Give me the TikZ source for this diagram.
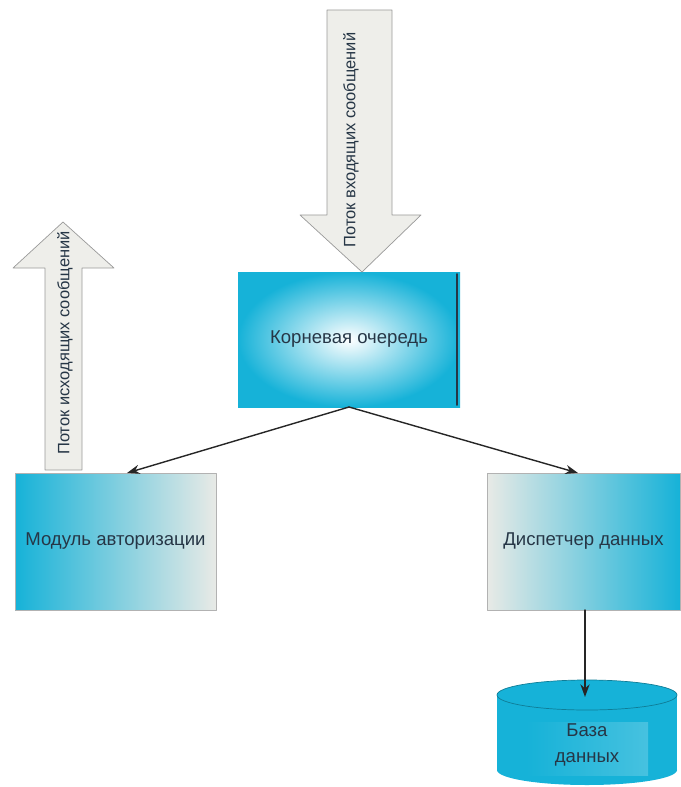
\documentclass[tikz,border=0pt]{standalone}
\usepackage{fontspec}
\setmainfont{Liberation Sans}
\usetikzlibrary{arrows.meta}
\definecolor{boxcyan}{RGB}{22,178,216}
\definecolor{boxgray}{RGB}{232,234,230}
\definecolor{textdark}{RGB}{38,54,70}
\definecolor{flowfill}{RGB}{238,238,234}
\begin{document}
\begin{tikzpicture}[x=0.025cm,y=-0.025cm,>={Stealth[length=9pt,width=6.5pt]},line join=round,line cap=round,
	boxtext/.style={text=textdark,font=\fontsize{13.2}{16}\selectfont},
	flowtext/.style={text=textdark,font=\fontsize{11.7}{13}\selectfont,rotate=90},
	flowarrow/.style={fill=flowfill,draw=black!40,line width=0.5pt},
	link/.style={->,line width=1pt,black!85}]
	\useasboundingbox (0,0) rectangle (680,787);
	%Корневая очередь
	\path (238,272) coordinate (R1) (460,407) coordinate (R2);
	\shade[inner color=white,outer color=boxcyan] (R1) rectangle (R2);
	\draw[line width=1.4pt,textdark] (457,274)--(457,405);
	\node[boxtext] (root) at (349,339.5) {Корневая очередь};
	\coordinate (rootS) at (349,407);
	%Модуль авторизации
	\path (15,473) coordinate (M1) (216,610) coordinate (M2);
	\shade[left color=boxcyan,middle color=boxcyan!55!boxgray,right color=boxgray] (M1) rectangle (M2);
	\draw[black!30,line width=0.4pt] (M1) rectangle (M2);
	\node[boxtext] (auth) at (115.5,541.5) {Модуль авторизации};
	\coordinate (authN) at (127,473);
	%Диспетчер данных
	\path (487,473) coordinate (D1) (680,610) coordinate (D2);
	\shade[left color=boxgray,middle color=boxcyan!55!boxgray,right color=boxcyan] (D1) rectangle (D2);
	\draw[black!30,line width=0.4pt] (D1) rectangle (D2);
	\node[boxtext] (disp) at (583.5,541.5) {Диспетчер данных};
	\coordinate (dispN) at (578,473);
	\coordinate (dispS) at (585,610);
	%База данных
	\fill[boxcyan] (497,695) rectangle (677,770);
	\fill[boxcyan] (587,770) ellipse [x radius=90,y radius=15];
	\draw[fill=boxcyan,draw=boxcyan!70!black,line width=0.5pt] (587,695) ellipse [x radius=90,y radius=15];
	\shade[left color=boxcyan,right color=boxcyan!40!white,opacity=0.35] (525,722) rectangle (648,775);
	\node[boxtext,align=center] (db) at (587,745) {База\\[2pt]данных};
	\coordinate (dbtop) at (585,697);
	%Потоки сообщений
	\path (327,10) coordinate (A1) (392,10) coordinate (A2) (392,215) coordinate (A3)
		(421,215) coordinate (A4) (362,272) coordinate (A5) (300,215) coordinate (A6)
		(327,215) coordinate (A7);
	\draw[flowarrow] (A1)--(A2)--(A3)--(A4)--(A5)--(A6)--(A7)--cycle;
	\node[flowtext] (inflow) at (351,140) {Поток входящих сообщений};
	\path (45,470) coordinate (B1) (45,268) coordinate (B2) (13,268) coordinate (B3)
		(63,222) coordinate (B4) (114,268) coordinate (B5) (82,268) coordinate (B6)
		(82,470) coordinate (B7);
	\draw[flowarrow] (B1)--(B2)--(B3)--(B4)--(B5)--(B6)--(B7)--cycle;
	\node[flowtext] (outflow) at (65,343) {Поток исходящих сообщений};
	%Связи
	\draw[link] (rootS)--(authN);
	\draw[link] (rootS)--(dispN);
	\draw[link] (dispS)--(dbtop);
\end{tikzpicture}
\end{document}
